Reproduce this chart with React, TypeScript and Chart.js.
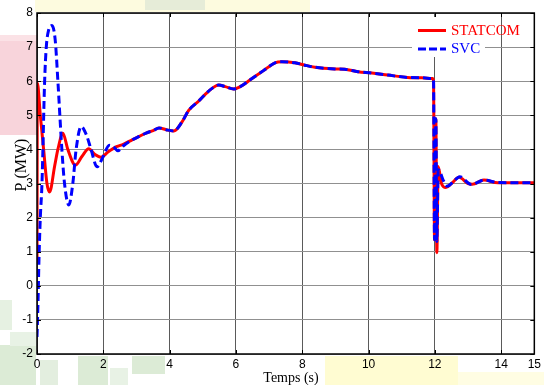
import React, { useEffect, useRef } from "react";
import { Chart, registerables } from "chart.js";

Chart.register(...registerables);

// ---- data ----
const seriesLabels = ["STATCOM", "SVC"];

const statcomStartTime = [0, 0.01, 0.1, 0.2, 0.3, 0.38, 0.53, 0.63, 0.78, 0.93, 1.16, 1.36, 1.56, 1.75, 1.93, 2.15, 2.4, 2.6];
const statcomStartPower = [0.7, 5.95, 5.0, 4.0, 3.0, 2.75, 3.5, 4.0, 4.47, 4.0, 3.54, 3.8, 4.02, 3.85, 3.77, 3.93, 4.08, 4.15];

const svcStartTime = [0, 0.03, 0.06, 0.1, 0.15, 0.23, 0.28, 0.35, 0.45, 0.55, 0.63, 0.75, 0.83, 0.96, 1.08, 1.18, 1.33, 1.48, 1.63, 1.81, 2.0, 2.18, 2.3, 2.44, 2.6];
const svcStartPower = [-1.5, -0.5, 0.8, 2.0, 3.0, 6.0, 7.0, 7.5, 7.63, 7.2, 6.0, 4.0, 3.0, 2.37, 3.0, 4.0, 4.67, 4.45, 4.0, 3.49, 3.8, 4.12, 4.08, 3.96, 4.1];

const sharedTime = [2.87, 3.08, 3.29, 3.5, 3.68, 3.92, 4.13, 4.37, 4.58, 4.88, 5.08, 5.28, 5.48, 5.68, 5.93, 6.13, 6.43, 6.83, 7.18, 7.38, 7.78, 8.08, 8.38, 8.98, 9.28, 9.68, 10.1, 10.58, 11.18, 11.6, 11.93];
const sharedPower = [4.28, 4.38, 4.48, 4.55, 4.63, 4.57, 4.54, 4.8, 5.15, 5.42, 5.62, 5.79, 5.89, 5.84, 5.77, 5.84, 6.04, 6.31, 6.54, 6.57, 6.54, 6.47, 6.41, 6.36, 6.35, 6.28, 6.24, 6.18, 6.11, 6.1, 6.08];

const statcomEndTime = [11.96, 11.99, 12.03, 12.06, 12.1, 12.2, 12.33, 12.5, 12.73, 13.0, 13.13, 13.48, 13.9, 15];
const statcomEndPower = [6.0, 1.35, 4.9, 0.97, 3.5, 3.0, 2.88, 3.0, 3.18, 3.0, 2.98, 3.1, 3.02, 3.02];

const svcEndTime = [11.96, 11.99, 12.03, 12.06, 12.1, 12.15, 12.25, 12.38, 12.55, 12.75, 13.1, 13.48, 13.9, 15];
const svcEndPower = [6.0, 1.35, 4.9, 1.3, 3.4, 3.35, 3.1, 2.92, 3.05, 3.2, 2.97, 3.1, 3.03, 3.02];

const xTickValues = [0, 2, 4, 6, 8, 10, 12, 14, 15];
const yTickValues = [-2, -1, 0, 1, 2, 3, 4, 5, 6, 7, 8];

const xTitle = "Temps (s)";
const yTitle = "P (MW)";

const toPoints = (ts: number[], ps: number[]) => ts.map((t, i) => ({ x: t, y: ps[i] }));

const statcomPoints = [
  ...toPoints(statcomStartTime, statcomStartPower),
  ...toPoints(sharedTime, sharedPower),
  ...toPoints(statcomEndTime, statcomEndPower),
];
const svcPoints = [
  ...toPoints(svcStartTime, svcStartPower),
  ...toPoints(sharedTime, sharedPower),
  ...toPoints(svcEndTime, svcEndPower),
];

const SERIF = "'Liberation Serif', 'Times New Roman', serif";
const SANS = "'Liberation Sans', Arial, sans-serif";

const framePlugin = {
  id: "matlabFrame",
  beforeDatasetsDraw() {},
  beforeDraw(chart: any) {
    const { ctx, chartArea: a } = chart;
    ctx.save();
    ctx.fillStyle = "#ffffff";
    ctx.fillRect(a.left, a.top, a.right - a.left, a.bottom - a.top);
    ctx.restore();
  },
  afterDraw(chart: any) {
    const { ctx, chartArea: a, scales } = chart;
    ctx.save();
    // legend box
    ctx.fillStyle = "#ffffff";
    ctx.fillRect(412, 17, 73, 40);
    ctx.fillRect(502, 15, 4, 30);
    ctx.fillRect(502, 48.5, 4, 5);
    ctx.lineCap = "butt";
    ctx.strokeStyle = "#ff0000";
    ctx.lineWidth = 3;
    ctx.beginPath();
    ctx.moveTo(418, 30.5);
    ctx.lineTo(446, 30.5);
    ctx.stroke();
    ctx.strokeStyle = "#0000ff";
    ctx.setLineDash([8, 3]);
    ctx.beginPath();
    ctx.moveTo(418, 49);
    ctx.lineTo(446, 49);
    ctx.stroke();
    ctx.setLineDash([]);
    ctx.font = `15px ${SERIF}`;
    ctx.textBaseline = "middle";
    ctx.textAlign = "left";
    ctx.fillStyle = "#ff0000";
    ctx.fillText(seriesLabels[0], 451, 31);
    ctx.fillStyle = "#0000ff";
    ctx.fillText(seriesLabels[1], 451, 49);

    // frame
    ctx.strokeStyle = "#000000";
    ctx.lineWidth = 1.5;
    ctx.strokeRect(a.left, a.top, a.right - a.left, a.bottom - a.top);

    // inward ticks
    ctx.lineWidth = 1;
    ctx.beginPath();
    for (const v of xTickValues) {
      const x = Math.round(scales.x.getPixelForValue(v)) + 0.5;
      ctx.moveTo(x, a.bottom);
      ctx.lineTo(x, a.bottom - 4);
      ctx.moveTo(x, a.top);
      ctx.lineTo(x, a.top + 4);
    }
    for (const v of yTickValues) {
      const y = Math.round(scales.y.getPixelForValue(v)) + 0.5;
      ctx.moveTo(a.left, y);
      ctx.lineTo(a.left + 4, y);
      ctx.moveTo(a.right, y);
      ctx.lineTo(a.right - 4, y);
    }
    ctx.stroke();

    // axis titles
    ctx.fillStyle = "#000000";
    ctx.font = `14px ${SERIF}`;
    ctx.textAlign = "center";
    ctx.textBaseline = "alphabetic";
    ctx.fillText(xTitle, 291, 382);
    ctx.save();
    ctx.translate(26, 165);
    ctx.rotate(-Math.PI / 2);
    ctx.font = `16px ${SERIF}`;
    ctx.fillText(yTitle, 0, 0);
    ctx.restore();
    ctx.restore();
  },
};

function App() {
  const ref = useRef<HTMLCanvasElement | null>(null);
  useEffect(() => {
    if (!ref.current) return;
    const chart = new Chart(ref.current, {
      type: "line",
      data: {
        datasets: [
          {
            label: seriesLabels[1],
            data: svcPoints,
            borderColor: "#0000ff",
            borderWidth: 3,
            borderDash: [8, 4],
            pointRadius: 0,
            fill: false,
            cubicInterpolationMode: "monotone",
            order: 0,
          },
          {
            label: seriesLabels[0],
            data: statcomPoints,
            borderColor: "#ff0000",
            borderWidth: 3,
            pointRadius: 0,
            fill: false,
            cubicInterpolationMode: "monotone",
            order: 1,
          },
        ],
      },
      options: {
        responsive: false,
        animation: false,
        events: [],
        layout: { padding: { top: 13, right: 7, left: 0, bottom: 0 } },
        plugins: { legend: { display: false }, tooltip: { enabled: false } },
        scales: {
          x: {
            type: "linear",
            min: 0,
            max: 15,
            afterBuildTicks: (s: any) => {
              s.ticks = xTickValues.map((v) => ({ value: v }));
            },
            afterFit: (s: any) => {
              s.height = 31;
            },
            grid: { color: "#5a5a5a", lineWidth: 1, drawTicks: false },
            border: { display: false },
            ticks: {
              color: "#000000",
              font: { family: SANS, size: 12 },
              padding: 3,
              autoSkip: false,
              maxRotation: 0,
            },
          },
          y: {
            type: "linear",
            min: -2,
            max: 8,
            afterBuildTicks: (s: any) => {
              s.ticks = yTickValues.map((v) => ({ value: v }));
            },
            afterFit: (s: any) => {
              s.width = 37;
            },
            grid: { color: "#909090", lineWidth: 1, drawTicks: false },
            border: { display: false },
            ticks: {
              color: "#000000",
              font: { family: SANS, size: 12 },
              padding: 4,
              autoSkip: false,
            },
          },
        },
      },
      plugins: [framePlugin],
    } as any);
    return () => chart.destroy();
  }, []);

  const patch = (left: number, top: number, width: number, height: number, bg: string) => (
    <div style={{ position: "absolute", left, top, width, height, background: bg }} />
  );

  return (
    <div style={{ position: "fixed", left: 0, top: 0, width: 544, height: 385, background: "#ffffff", overflow: "hidden" }}>
      {patch(0, 35, 37, 100, "#f8d4db")}
      {patch(0, 35, 37, 6, "#fbe2e6")}
      {patch(35, 0, 275, 12, "#fdfbdf")}
      {patch(145, 0, 60, 10, "#e6ecd8")}
      {patch(325, 356, 133, 29, "#fffcd2")}
      {patch(458, 372, 86, 13, "#fffde3")}
      {patch(0, 300, 12, 30, "#e6f1e2")}
      {patch(0, 345, 36, 40, "#dcebd6")}
      {patch(10, 332, 26, 14, "#e8f2e5")}
      {patch(40, 360, 18, 25, "#e3eedf")}
      {patch(78, 356, 30, 29, "#dcebd6")}
      {patch(110, 368, 18, 17, "#e8f2e5")}
      {patch(132, 356, 33, 18, "#dcebd6")}
      <canvas ref={ref} width={544} height={385} style={{ position: "absolute", left: 0, top: 0, width: 544, height: 385 }} />
    </div>
  );
}

export default App;
